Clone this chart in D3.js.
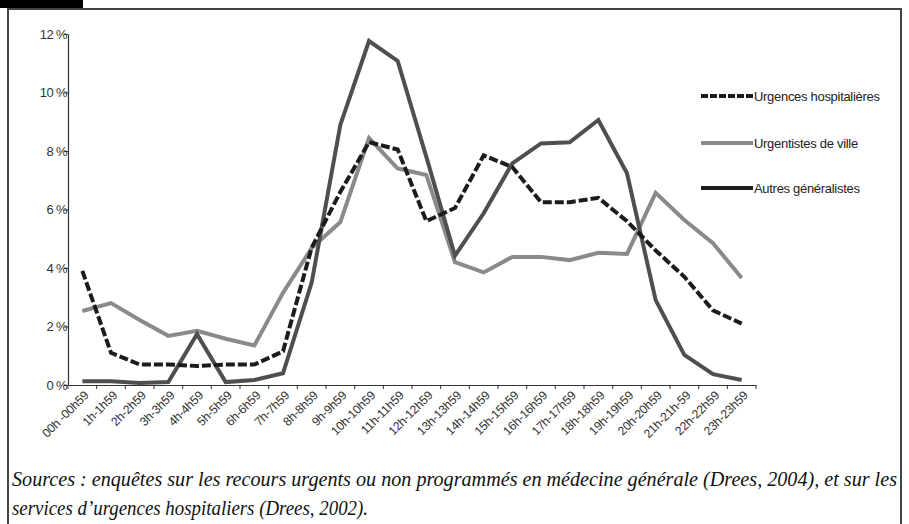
<!DOCTYPE html>
<html><head><meta charset="utf-8">
<script src="https://cdn.jsdelivr.net/npm/d3@7"></script>
<style>body{margin:0;background:#fff}svg{display:block}</style>
</head><body>
<svg id="c" width="909" height="524"></svg>
<script>
const categories = ["00h -00h59","1h-1h59","2h-2h59","3h-3h59","4h-4h59","5h-5h59","6h-6h59","7h-7h59","8h-8h59","9h-9h59","10h-10h59","11h-11h59","12h-12h59","13h-13h59","14h-14h59","15h-15h59","16h-16h59","17h-17h59","18h-18h59","19h-19h59","20h-20h59","21h-21h-59","22h-22h59","23h-23h59"];
const urgencesHospitalieres = [3.9,1.1,0.7,0.7,0.65,0.7,0.7,1.15,4.7,6.6,8.3,8.05,5.6,6.05,7.85,7.45,6.25,6.25,6.4,5.6,4.6,3.7,2.55,2.1];
const urgentistesVille = [2.53,2.8,2.22,1.68,1.85,1.58,1.35,3.15,4.68,5.57,8.44,7.4,7.18,4.2,3.85,4.38,4.38,4.27,4.52,4.48,6.57,5.64,4.85,3.66];
const autresGeneralistes = [0.13,0.13,0.07,0.1,1.74,0.1,0.17,0.4,3.5,8.89,11.76,11.08,7.8,4.42,5.87,7.58,8.26,8.3,9.06,7.24,2.9,1.03,0.37,0.17];
const seriesNames = ["Urgences hospitalières","Urgentistes de ville","Autres généralistes"];
const yTicks = [0,2,4,6,8,10,12];
const sourceLines = ["Sources : enquêtes sur les recours urgents ou non programmés en médecine générale (Drees, 2004), et sur les","services d’urgences hospitaliers (Drees, 2002)."];

const svg = d3.select("#c");
const sans = "Liberation Sans, Arial, sans-serif";
// frame
svg.append("rect").attr("x",0).attr("y",0).attr("width",83).attr("height",8).attr("fill","#000");
svg.append("path").attr("d","M8,530 V9 H901 V530").attr("fill","none").attr("stroke","#444").attr("stroke-width",2);

const x = d3.scaleBand().domain(categories).range([68,756]);
const y = d3.scaleLinear().domain([0,12]).range([385,34]);

const yAxis = d3.axisLeft(y).tickValues(yTicks).tickFormat(d=>d+" %").tickSize(4).tickSizeOuter(0);
const gy = svg.append("g").attr("transform","translate(68,0)").call(yAxis);
gy.select(".domain").attr("stroke","#333").attr("stroke-width",1.2);
gy.selectAll(".tick line").attr("stroke","#333");
gy.selectAll(".tick text").attr("x",-1).attr("font-family",sans).attr("font-size",13).attr("fill","#333").attr("letter-spacing","-0.6");

const xAxis = d3.axisBottom(x).tickSize(0).tickSizeOuter(0);
const gx = svg.append("g").attr("transform","translate(0,385)").call(xAxis);
gx.select(".domain").attr("stroke","#333").attr("stroke-width",1.2);
gx.selectAll(".tick text").attr("font-family",sans).attr("font-size",12.2).attr("fill","#333")
  .attr("text-anchor","end").attr("letter-spacing","-0.2")
  .attr("transform","translate(4,8) rotate(-45)").attr("dy","0.35em").attr("y",0).attr("x",0);
// boundary ticks
const bounds = categories.map(c=>x(c)).concat([x.range()[1]]);
gx.selectAll(".btick").data(bounds).enter().append("line").attr("class","btick")
  .attr("x1",d=>d).attr("x2",d=>d).attr("y1",0).attr("y2",4).attr("stroke","#333");

const line = d3.line().x((d,i)=>x(categories[i])+x.bandwidth()/2).y(d=>y(d));
const styles = [
  {data:urgencesHospitalieres,color:"#1c1c1c",dash:"9,3"},
  {data:urgentistesVille,color:"#8a8a8a",dash:null},
  {data:autresGeneralistes,color:"#4f4f4f",dash:null}
];
[1,2,0].forEach(k=>{
  const s = styles[k];
  svg.append("path").datum(s.data).attr("d",line).attr("fill","none")
    .attr("stroke",s.color).attr("stroke-width",4).attr("stroke-linejoin","miter")
    .attr("stroke-dasharray",s.dash);
});

// legend
const legY = [96,143,188];
const legendColors = ["#1c1c1c","#8a8a8a","#1c1c1c"];
seriesNames.forEach((n,i)=>{
  svg.append("line").attr("x1",701).attr("x2",753).attr("y1",legY[i]).attr("y2",legY[i])
    .attr("stroke",legendColors[i]).attr("stroke-width",4).attr("stroke-dasharray",i===0?"7,2":null);
  svg.append("text").attr("x",754).attr("y",legY[i]).attr("dy","0.35em")
    .attr("font-family",sans).attr("font-size",13).attr("fill","#222")
    .attr("letter-spacing","-0.3").text(n);
});

// source
const serif = "Liberation Serif, Times New Roman, serif";
const src = svg.append("g");
src.append("text").attr("x",12).attr("y",486).attr("font-family",serif)
  .attr("font-style","italic").attr("font-size",20).attr("fill","#111")
  .attr("textLength",885).attr("lengthAdjust","spacingAndGlyphs").text(sourceLines[0]);
src.append("text").attr("x",12).attr("y",515).attr("font-family",serif)
  .attr("font-style","italic").attr("font-size",20).attr("fill","#111")
  .attr("textLength",356).attr("lengthAdjust","spacingAndGlyphs").text(sourceLines[1]);
</script>
</body></html>
